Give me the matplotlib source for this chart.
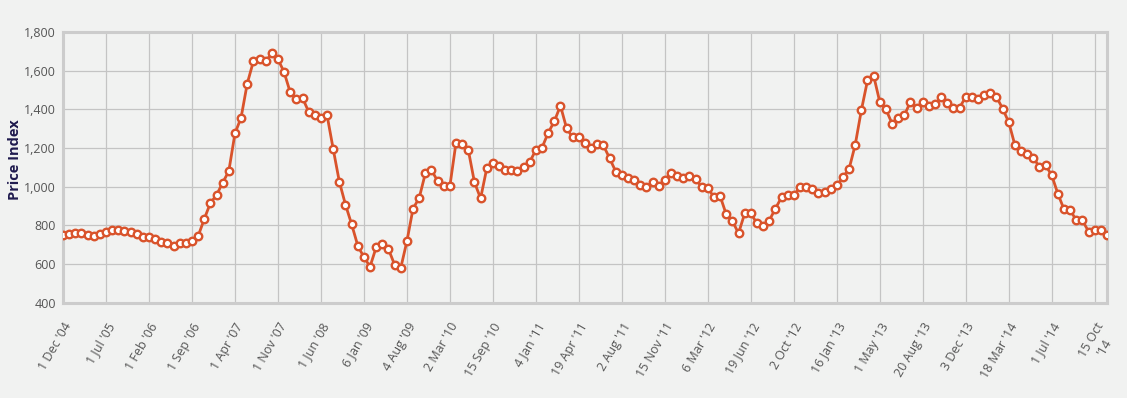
import matplotlib
matplotlib.use("Agg")
import matplotlib.pyplot as plt
import matplotlib.transforms as mtransforms
from matplotlib.ticker import FuncFormatter, MultipleLocator

price_index = [
    748, 753, 760, 760, 750, 746, 753, 765, 777, 777,
    772, 765, 753, 737, 741, 731, 712, 708, 694, 708,
    708, 717, 743, 832, 915, 956, 1020, 1080, 1275, 1357,
    1533, 1648, 1662, 1648, 1690, 1660, 1592, 1488, 1454, 1459,
    1387, 1373, 1357, 1369, 1194, 1025, 906, 805, 694, 634,
    586, 686, 701, 676, 595, 579, 717, 886, 941, 1068,
    1085, 1029, 1003, 1003, 1228, 1221, 1189, 1022, 939, 1094,
    1122, 1108, 1087, 1087, 1080, 1103, 1127, 1190, 1201, 1278,
    1337, 1419, 1302, 1254, 1258, 1227, 1201, 1221, 1213, 1147,
    1078, 1058, 1044, 1034, 1010, 998, 1023, 1004, 1034, 1072,
    1056, 1042, 1053, 1037, 999, 994, 944, 951, 856, 822,
    758, 861, 861, 810, 798, 824, 886, 944, 954, 954,
    998, 998, 989, 968, 972, 987, 1006, 1049, 1091, 1216,
    1395, 1549, 1574, 1438, 1400, 1326, 1357, 1368, 1440, 1406,
    1440, 1419, 1425, 1461, 1435, 1406, 1409, 1464, 1464, 1454,
    1475, 1485, 1464, 1404, 1333, 1215, 1184, 1170, 1149, 1101,
    1111, 1058, 963, 882, 879, 825, 825, 767, 777, 775,
    750,
]

tick_labels = [
    "1 Dec '04", "1 Jul '05", "1 Feb '06", "1 Sep '06", "1 Apr '07",
    "1 Nov '07", "1 Jun '08", "6 Jan '09", "4 Aug '09", "2 Mar '10",
    "15 Sep '10", "4 Jan '11", "19 Apr '11", "2 Aug '11", "15 Nov '11",
    "6 Mar '12", "19 Jun '12", "2 Oct '12", "16 Jan '13", "1 May '13",
    "20 Aug '13", "3 Dec '13", "18 Mar '14", "1 Jul '14", "15 Oct\n'14",
]
tick_step = 7

bg = "#f1f2f1"
line_color = "#d9532b"
text_color = "#555555"

plt.rcParams['font.family'] = ['Open Sans', 'DejaVu Sans']

fig = plt.figure(figsize=(11.27, 3.98), dpi=100, facecolor=bg)
ax = fig.add_axes([63/1127, 1 - 302.5/398, (1107 - 63)/1127, (302.5 - 32)/398])
ax.set_facecolor(bg)

x = list(range(len(price_index)))
ax.plot(x, price_index, color=line_color, linewidth=2.0,
        marker='o', markersize=5.4, markerfacecolor='white',
        markeredgecolor=line_color, markeredgewidth=1.7, zorder=3)

ax.set_xlim(0, len(price_index) - 1)
ax.set_ylim(400, 1800)
ax.yaxis.set_major_locator(MultipleLocator(200))
ax.yaxis.set_major_formatter(FuncFormatter(lambda v, p: f"{int(v):,}"))

tick_pos = [i * tick_step for i in range(len(tick_labels))]
ax.set_xticks(tick_pos)
ax.set_xticklabels(tick_labels, rotation=60, ha='right', va='top',
                   rotation_mode='anchor', multialignment='center')
offset = mtransforms.ScaledTranslation(5/100, 0, fig.dpi_scale_trans)
for lbl in ax.get_xticklabels():
    lbl.set_transform(lbl.get_transform() + offset)

ax.grid(True, color='#c4c4c4', linewidth=0.9, zorder=0)
ax.set_axisbelow(True)
for s in ax.spines.values():
    s.set_color('#cccccc')
    s.set_linewidth(2.2)

ax.tick_params(axis='both', length=0, labelsize=9, colors=text_color)
ax.tick_params(axis='x', pad=13)
ax.tick_params(axis='y', pad=5)

ax.set_ylabel("Price Index", fontsize=10.5, fontweight='bold', color='#1f1a4e')
ax.yaxis.set_label_coords(-41/1044, 0.53)

fig.savefig("out.png", dpi=100, facecolor=bg)
